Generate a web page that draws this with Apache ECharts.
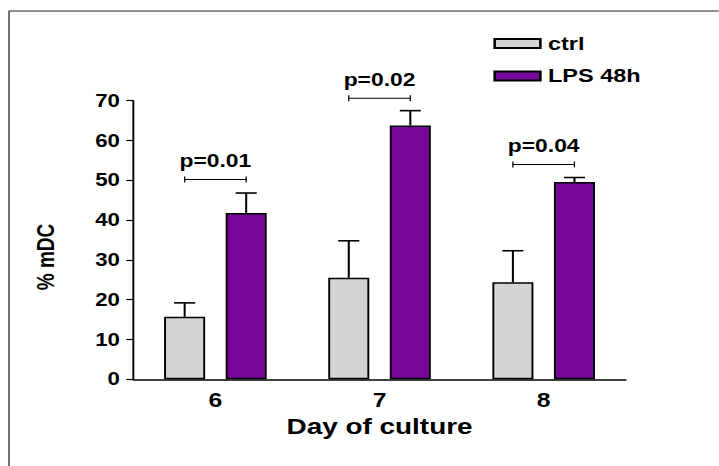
<!DOCTYPE html>
<html>
<head>
<meta charset="utf-8">
<script src="https://cdn.jsdelivr.net/npm/echarts@6/dist/echarts.min.js"></script>
<style>
  html, body { margin: 0; padding: 0; background: #fff; overflow: hidden; }
  /* the figure is laid out narrow and widened horizontally */
  #chart { width: 566px; height: 466px; transform: scaleX(1.27); transform-origin: 0 0; }
</style>
</head>
<body>
<div id="chart"></div>
<script>
// Day of culture
const days = ['6', '7', '8'];
// % mDC, means and upper error (mean + SEM)
const ctrlMean = [15.7, 25.5, 24.4];
const ctrlUpper = [19.2, 34.8, 32.3];
const lpsMean = [41.8, 63.8, 49.6];
const lpsUpper = [46.8, 67.5, 50.7];
// significance annotations
const pLabels = ['p=0.01', 'p=0.02', 'p=0.04'];
const bracketLevels = [50.2, 70.6, 54.0];
// y axis ticks
const yTicks = [0, 10, 20, 30, 40, 50, 60, 70];

const FONT = '"Liberation Sans", Arial, sans-serif';
const BAR_OFFSET = 0.1875;   // bar centre offset from category centre, as a share of the band

function errorRenderer(side) {
  return function (params, api) {
    const base = api.coord([api.value(0), api.value(1)]);
    const top = api.coord([api.value(0), api.value(2)]);
    const band = api.size([1, 0])[0];
    const cx = base[0] + side * BAR_OFFSET * band;
    const hw = 8.3;
    const st = { stroke: '#000', lineWidth: 1.6 };
    return {
      type: 'group',
      children: [
        { type: 'line', shape: { x1: cx, y1: base[1], x2: cx, y2: top[1] }, style: st },
        { type: 'line', shape: { x1: cx - hw, y1: top[1], x2: cx + hw, y2: top[1] }, style: st }
      ]
    };
  };
}

function bracketRenderer(params, api) {
  const p = api.coord([api.value(0), api.value(1)]);
  const band = api.size([1, 0])[0];
  const x1 = p[0] - BAR_OFFSET * band;
  const x2 = p[0] + BAR_OFFSET * band;
  const y = p[1];
  const st = { stroke: '#000', lineWidth: 1 };
  return {
    type: 'group',
    children: [
      { type: 'line', shape: { x1: x1, y1: y, x2: x2, y2: y }, style: st },
      { type: 'line', shape: { x1: x1, y1: y - 3, x2: x1, y2: y + 3 }, style: st },
      { type: 'line', shape: { x1: x2, y1: y - 3, x2: x2, y2: y + 3 }, style: st },
      {
        type: 'text',
        style: {
          x: (x1 + x2) / 2, y: y - 10,
          text: pLabels[params.dataIndex],
          fill: '#000', font: 'bold 18px ' + FONT,
          textAlign: 'center', textVerticalAlign: 'bottom'
        }
      }
    ]
  };
}

const chart = echarts.init(document.getElementById('chart'), null, { renderer: 'svg' });

chart.setOption({
  animation: false,
  backgroundColor: '#fff',
  grid: { left: 105, right: 73.3, top: 100.7, bottom: 86.7 },
  graphic: [
    {
      type: 'rect',
      shape: { x: 7.1, y: 11, width: 700, height: 600 },
      style: { fill: 'none', stroke: '#222', lineWidth: 1 },
      silent: true
    },
    {
      type: 'text',
      x: 36, y: 257,
      rotation: Math.PI / 2,
      style: {
        text: '% mDC', fill: '#000', font: 'bold 19px ' + FONT,
        textAlign: 'center', textVerticalAlign: 'middle'
      }
    }
  ],
  legend: {
    orient: 'vertical',
    left: 383.5, top: 28.5,
    itemWidth: 36, itemHeight: 9,
    itemGap: 12.4,
    icon: 'rect',
    textStyle: { fontFamily: FONT, fontWeight: 'bold', fontSize: 18.5, color: '#000', lineHeight: 20, padding: [0, 0, 0, 1] },
    data: ['ctrl', 'LPS 48h']
  },
  xAxis: {
    type: 'category',
    data: days,
    name: 'Day of culture',
    nameLocation: 'middle',
    nameGap: 33,
    nameTextStyle: { fontFamily: FONT, fontWeight: 'bold', fontSize: 22, color: '#000' },
    axisLine: { lineStyle: { color: '#000', width: 1.5 } },
    axisTick: { show: false },
    axisLabel: { fontFamily: FONT, fontWeight: 'bold', fontSize: 19.5, color: '#000', margin: 11 }
  },
  yAxis: {
    type: 'value',
    min: yTicks[0], max: yTicks[yTicks.length - 1], interval: 10,
    splitLine: { show: false },
    axisLine: { show: true, lineStyle: { color: '#000', width: 1.5 } },
    axisTick: { show: true, length: 5.5, lineStyle: { color: '#000', width: 1.2 } },
    axisLabel: { fontFamily: FONT, fontWeight: 'bold', fontSize: 17.5, color: '#000', margin: 10.6 }
  },
  series: [
    {
      name: 'ctrl', type: 'bar', data: ctrlMean,
      barWidth: '25%', barGap: '50%',
      itemStyle: { color: '#d4d4d4', borderColor: '#000', borderWidth: 1.5 }
    },
    {
      name: 'LPS 48h', type: 'bar', data: lpsMean,
      barWidth: '25%', barGap: '50%',
      itemStyle: { color: '#750698', borderColor: '#000', borderWidth: 1.5 }
    },
    {
      type: 'custom', renderItem: errorRenderer(-1), z: 1,
      data: days.map((d, i) => [i, ctrlMean[i], ctrlUpper[i]]),
      encode: { x: 0, y: [1, 2] }, silent: true
    },
    {
      type: 'custom', renderItem: errorRenderer(1), z: 1,
      data: days.map((d, i) => [i, lpsMean[i], lpsUpper[i]]),
      encode: { x: 0, y: [1, 2] }, silent: true
    },
    {
      type: 'custom', renderItem: bracketRenderer, z: 3, clip: false,
      data: days.map((d, i) => [i, bracketLevels[i]]),
      encode: { x: 0, y: 1 }, silent: true
    }
  ]
});
</script>
</body>
</html>
